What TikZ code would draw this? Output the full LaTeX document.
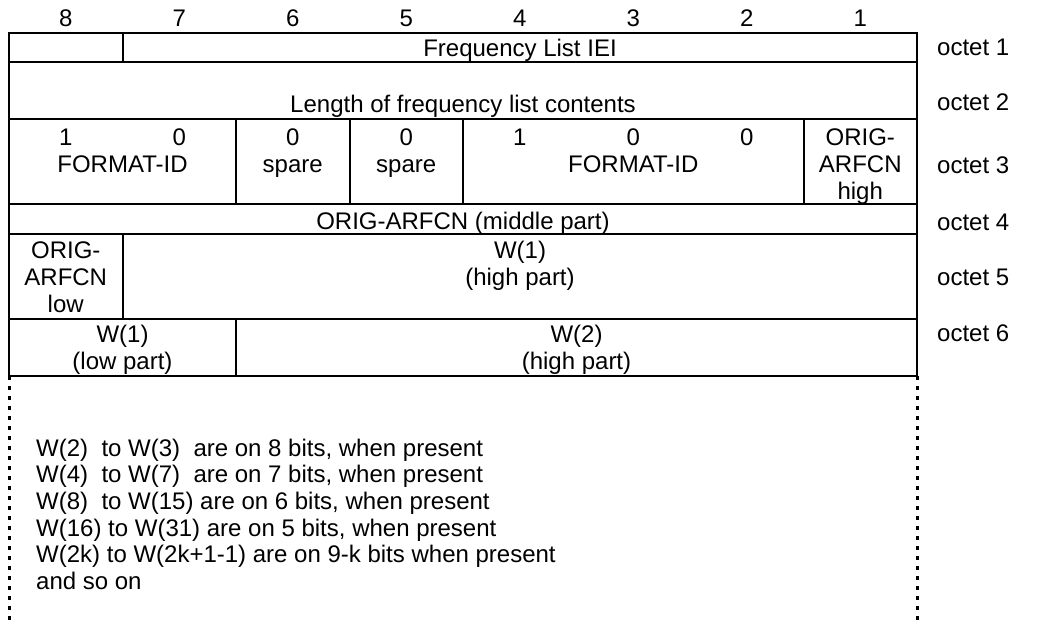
\documentclass[tikz,border=0pt]{standalone}
\usepackage{fontspec}
\setmainfont{Liberation Sans}
\begin{document}
\begin{tikzpicture}[line cap=rect, line join=miter, x=1pt, y=-1pt,
        font=\fontsize{24}{27}\selectfont,
        cell/.style={anchor=base, inner sep=0pt, align=center},
        octet/.style={anchor=base west, inner sep=0pt}]
    \useasboundingbox (0, 0) rectangle (1051, 625);
    % bit numbers over the columns
    \foreach \bit in {1,...,8}
        \node[cell] (bit\bit) at ({9 + (8.5-\bit)*113.5}, 26) {\bit};
    % frame and row lines
    \draw[line width=2pt] (9, 33) rectangle (917, 376);
    \foreach \y in {62, 119, 204, 234, 319}
        \draw[line width=2pt] (9, \y) -- (917, \y);
    \foreach \x/\ya/\yb in {122.5/33/62, 236/119/204, 349.5/119/204, 463/119/204,
            803.5/119/204, 122.5/234/319, 236/319/376}
        \draw[line width=2pt] (\x, \ya) -- (\x, \yb);
    % open end below octet 6
    \foreach \x in {9, 917}
        \draw[line width=3pt, line cap=butt, dash pattern=on 4pt off 6pt] (\x, 376) -- (\x, 625);
    % octet 1 and 2
    \node[cell] (iei) at (520, 56) {Frequency List IEI};
    \node[cell] (len) at (463, 112) {Length of frequency list contents};
    % octet 3 (multi-line cells sit on their last line)
    \foreach \bit/\val in {8/1, 7/0, 6/0, 5/0, 4/1, 3/0, 2/0}
        \node[cell] (val\bit) at ({9 + (8.5-\bit)*113.5}, 145) {\val};
    \node[cell] (fmtA) at (122.5, 172) {FORMAT-ID};
    \node[cell] (spareA) at (292.75, 172) {spare};
    \node[cell] (spareB) at (406.25, 172) {spare};
    \node[cell] (fmtB) at (633.25, 172) {FORMAT-ID};
    \node[cell] (orighigh) at (860.25, 199) {ORIG-\\ARFCN\\high};
    % octet 4 to 6
    \node[cell] (origmid) at (463, 229) {ORIG-ARFCN (middle part)};
    \node[cell] (origlow) at (65.75, 312) {ORIG-\\ARFCN\\low};
    \node[cell] (wonehigh) at (520, 285) {W(1)\\(high part)};
    \node[cell] (wonelow) at (122.5, 369) {W(1)\\(low part)};
    \node[cell] (wtwohigh) at (576.5, 369) {W(2)\\(high part)};
    % octet labels
    \foreach \n/\y in {1/55, 2/110, 3/173, 4/230, 5/285, 6/341}
        \node[octet] (oct\n) at (937, \y) {octet \n};
    % note on the rest
    \node[octet, align=left, font=\fontsize{24}{26.7}\selectfont] (note) at (36, 589.5)
        {W(2)\ \ to W(3)\ \ are on 8 bits, when present\\
         W(4)\ \ to W(7)\ \ are on 7 bits, when present\\
         W(8)\ \ to W(15) are on 6 bits, when present\\
         W(16) to W(31) are on 5 bits, when present\\
         W(2k) to W(2k+1-1) are on 9-k bits when present\\
         and so on};
\end{tikzpicture}
\end{document}
